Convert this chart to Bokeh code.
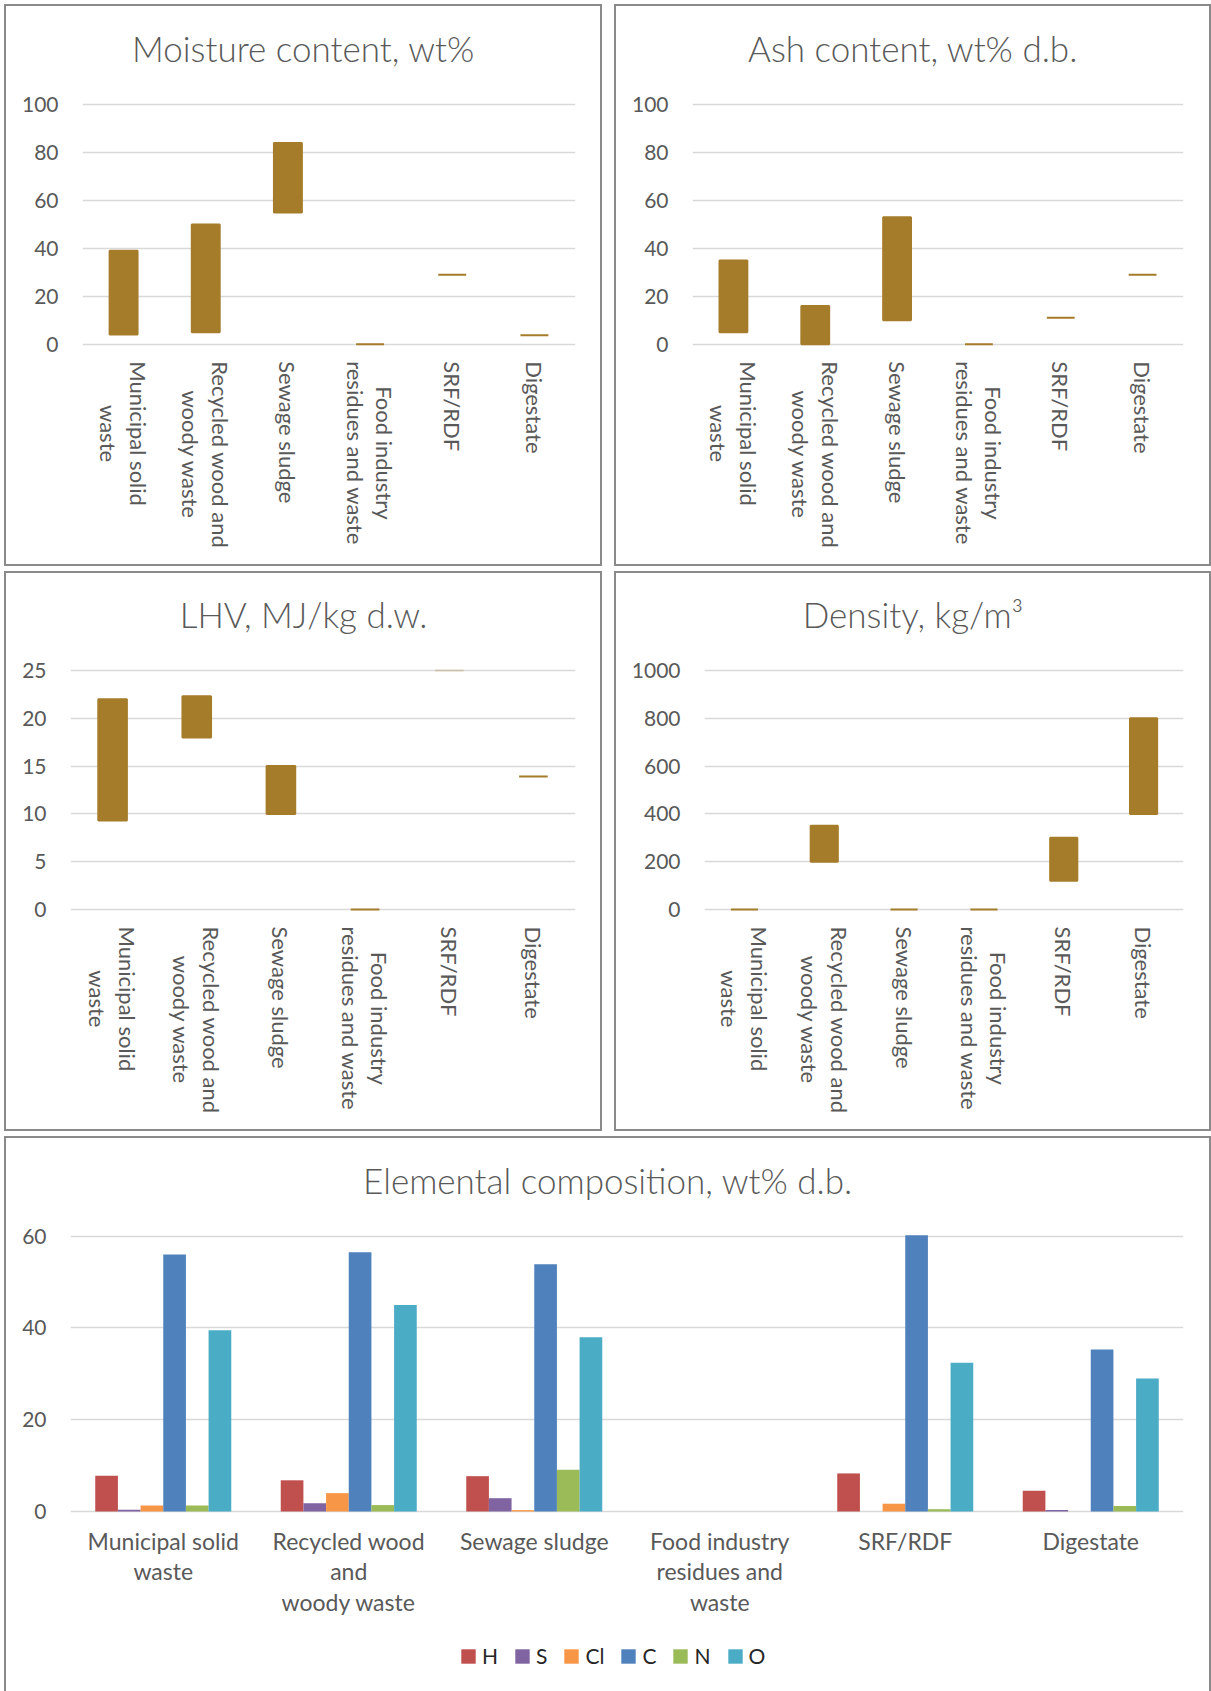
import math
from bokeh.plotting import figure
from bokeh.models import FactorRange, Range1d, FixedTicker, ColumnDataSource, Legend, LegendItem
from bokeh.layouts import column, row
from bokeh.embed import file_html
from bokeh.resources import INLINE
from bokeh.core.properties import value
from bokeh.transform import dodge

# ---------------- data ----------------
categories = ["Municipal solid waste", "Recycled wood and woody waste", "Sewage sludge",
              "Food industry residues and waste", "SRF/RDF", "Digestate"]
labels_rotated = ["Municipal solid\nwaste", "Recycled wood and\nwoody waste", "Sewage sludge",
                  "Food industry\nresidues and waste", "SRF/RDF", "Digestate"]
labels_flat = ["Municipal solid\nwaste", "Recycled wood\nand\nwoody waste", "Sewage sludge",
               "Food industry\nresidues and\nwaste", "SRF/RDF", "Digestate"]

moisture_low = [4, 5, 55, 0, 29, 3.7]
moisture_high = [39, 50, 84, 0, 29, 3.7]
moisture_ticks = [0, 20, 40, 60, 80, 100]

ash_low = [5, 0, 10, 0, 11, 29]
ash_high = [35, 16, 53, 0, 11, 29]
ash_ticks = [0, 20, 40, 60, 80, 100]

lhv_low = [9.3, 18, 10, 0, 25, 13.9]
lhv_high = [22, 22.3, 15, 0, 25, 13.9]
lhv_ticks = [0, 5, 10, 15, 20, 25]

density_low = [0, 200, 0, 0, 120, 400]
density_high = [0, 350, 0, 0, 300, 800]
density_ticks = [0, 200, 400, 600, 800, 1000]

elements = ["H", "S", "Cl", "C", "N", "O"]
el_H = [7.8, 6.8, 7.7, 0, 8.3, 4.5]
el_S = [0.4, 1.8, 2.9, 0, 0, 0.3]
el_Cl = [1.3, 4.0, 0.3, 0, 1.7, 0]
el_C = [56.0, 56.5, 53.9, 0, 60.2, 35.3]
el_N = [1.3, 1.4, 9.1, 0, 0.5, 1.2]
el_O = [39.5, 45.0, 38.0, 0, 32.4, 29.0]
el_ticks = [0, 20, 40, 60]

# ---------------- style ----------------
FONT = "Lato"
TITLE_FONT = "Lato Light"
TEXT = "#595959"
BAR = "#A57C2A"
GRID = "#D9D9D9"
BORDER = {"outline": "2px solid #8A8A8A", "outline-offset": "0px"}
EL_COLORS = ["#C0504D", "#8064A2", "#F79646", "#4F81BD", "#9BBB59", "#4BACC6"]


def make_panel(W, H, left, right, top_px, zero_px, ticks, title, title_px):
    tmax = ticks[-1]
    ppu = (zero_px - top_px) / tmax
    y_start = -(H - zero_px) / ppu
    y_end = tmax + top_px / ppu
    n = len(categories)
    p = figure(width=W, height=H,
               x_range=FactorRange(factors=categories, range_padding=0),
               y_range=Range1d(y_start, y_end),
               x_axis_location=None, y_axis_location="left",
               output_backend="svg", toolbar_location=None,
               min_border_left=left, min_border_right=right,
               min_border_top=0, min_border_bottom=0)
    p.styles = BORDER
    p.outline_line_color = None
    p.background_fill_color = "white"
    p.border_fill_color = "white"
    p.xgrid.visible = False
    p.ygrid.ticker = FixedTicker(ticks=ticks)
    p.ygrid.grid_line_color = GRID
    p.ygrid.grid_line_width = 1.5
    ax = p.yaxis[0]
    ax.ticker = FixedTicker(ticks=ticks)
    ax.axis_line_color = None
    ax.major_tick_line_color = None
    ax.minor_tick_line_color = None
    ax.major_tick_out = 0
    ax.major_tick_in = 0
    ax.minor_tick_out = 0
    ax.minor_tick_in = 0
    ax.major_label_standoff = 24
    ax.major_label_text_font = FONT
    ax.major_label_text_font_size = "21px"
    ax.major_label_text_color = TEXT
    # title centred on the whole panel
    frame_w = W - left - right
    ppx = frame_w / n
    x_title = n / 2 + ((right - left) / 2) / ppx
    y_title = tmax + (top_px - title_px) / ppu
    p.text(x=[x_title], y=[y_title], text=[title], text_align="center",
           text_baseline="middle", text_font=value(TITLE_FONT), text_font_size="35px",
           text_color=TEXT)
    return p, ppu


def range_chart(W, H, left, right, top_px, zero_px, title_px, ticks, title, low, high):
    p, ppu = make_panel(W, H, left, right, top_px, zero_px, ticks, title, title_px)
    tmax = ticks[-1]
    inside = [i for i in range(len(categories)) if low[i] < tmax]
    over = [i for i in range(len(categories)) if low[i] >= tmax]
    src_in = ColumnDataSource(dict(cat=[categories[i] for i in inside],
                                   low=[low[i] for i in inside],
                                   high=[high[i] for i in inside]))
    p.vbar(x="cat", bottom="low", top="high", width=0.34, source=src_in,
           fill_color=BAR, line_color=BAR, line_width=2)
    if over:
        src_over = ColumnDataSource(dict(cat=[categories[i] for i in over],
                                         low=[low[i] for i in over],
                                         high=[high[i] for i in over]))
        p.vbar(x="cat", bottom="low", top="high", width=0.34, source=src_over,
               fill_color=BAR, line_color=BAR, line_width=2, fill_alpha=0.25, line_alpha=0.25)
    # rotated category labels
    p.text(x=categories, y=[-17 / ppu] * len(categories), text=labels_rotated,
           angle=-math.pi / 2, anchor="center_left", text_align="center",
           text_baseline="middle", text_font=value(FONT), text_font_size="22px",
           text_color=TEXT, text_line_height=1.1)
    return p


p1 = range_chart(594, 558, 76, 25, 98.3, 337.7, 41.5, moisture_ticks,
                 "Moisture content, wt%", moisture_low, moisture_high)
p2 = range_chart(593, 558, 76, 26, 98.3, 337.7, 41.5, ash_ticks,
                 "Ash content, wt% d.b.", ash_low, ash_high)
p3 = range_chart(594, 556, 64, 25, 97.0, 336.0, 40.0, lhv_ticks,
                 "LHV, MJ/kg d.w.", lhv_low, lhv_high)
p4 = range_chart(593, 556, 88, 26, 97.0, 336.0, 40.0, density_ticks,
                 "Density, kg/m\u00b3", density_low, density_high)

# ---------------- elemental composition ----------------
p5, ppu5 = make_panel(1203, 553, 64, 26, 97.7, 373.0, el_ticks,
                      "Elemental composition, wt% d.b.", 41.0)
src5 = ColumnDataSource(dict(cat=categories, H=el_H, S=el_S, Cl=el_Cl, C=el_C, N=el_N, O=el_O))
bw = 0.1222
items = []
for i, (el, col) in enumerate(zip(elements, EL_COLORS)):
    r = p5.vbar(x=dodge("cat", (i - 2.5) * bw, range=p5.x_range), top=el, bottom=0,
                width=bw, source=src5, fill_color=col, line_color=None)
    items.append(LegendItem(label=el, renderers=[r]))
p5.text(x=categories, y=[-15 / ppu5] * len(categories), text=labels_flat,
        text_align="center", text_baseline="top", text_font=value(FONT),
        text_font_size="23px", text_color=TEXT, text_line_height=1.1)
legend = Legend(items=items, orientation="horizontal", location=(389, 23),
                glyph_width=18, glyph_height=18, label_standoff=5, spacing=15,
                label_width=0, padding=0, margin=0, border_line_color=None,
                background_fill_alpha=0,
                label_text_font=FONT, label_text_font_size="21px",
                label_text_color="#262626")
p5.add_layout(legend, "center")

layout = column(row(p1, p2, spacing=16), row(p3, p4, spacing=16), p5,
                spacing=9, margin=(6, 0, 0, 6))

html = file_html(layout, INLINE, title="Waste properties")
html = html.replace("<head>", "<head><style>html,body{margin:0;padding:0;}</style>", 1)
open("out.html", "w").write(html)
